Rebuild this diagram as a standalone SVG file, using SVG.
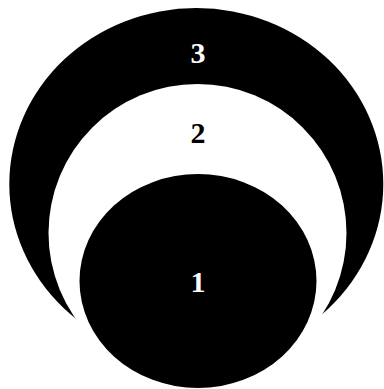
<svg xmlns="http://www.w3.org/2000/svg" width="384" height="389" viewBox="0 0 384 389">
<style>
.blk{fill:#000;stroke:none}
.wht{fill:#fff;stroke:none}
.lbl{font-family:"Liberation Serif","Times New Roman",serif;font-weight:bold;font-size:30px;fill:#fff;text-anchor:middle}
.lbl2{font-family:"Liberation Serif","Times New Roman",serif;font-weight:bold;font-size:30px;fill:#000;text-anchor:middle}
</style>
<rect width="384" height="389" fill="#fff"/>
<g id="node3">
<ellipse class="blk" cx="196.3" cy="184" rx="187" ry="176"/>
<text class="lbl" x="198" y="63">3</text>
</g>
<g id="node2">
<circle class="wht" cx="197.5" cy="233" r="149"/>
<text class="lbl2" x="198" y="143">2</text>
</g>
<g id="node1">
<ellipse class="blk" cx="198" cy="281" rx="118.5" ry="107"/>
<text class="lbl" x="198" y="292">1</text>
</g>
<g id="connectors"/>
</svg>
